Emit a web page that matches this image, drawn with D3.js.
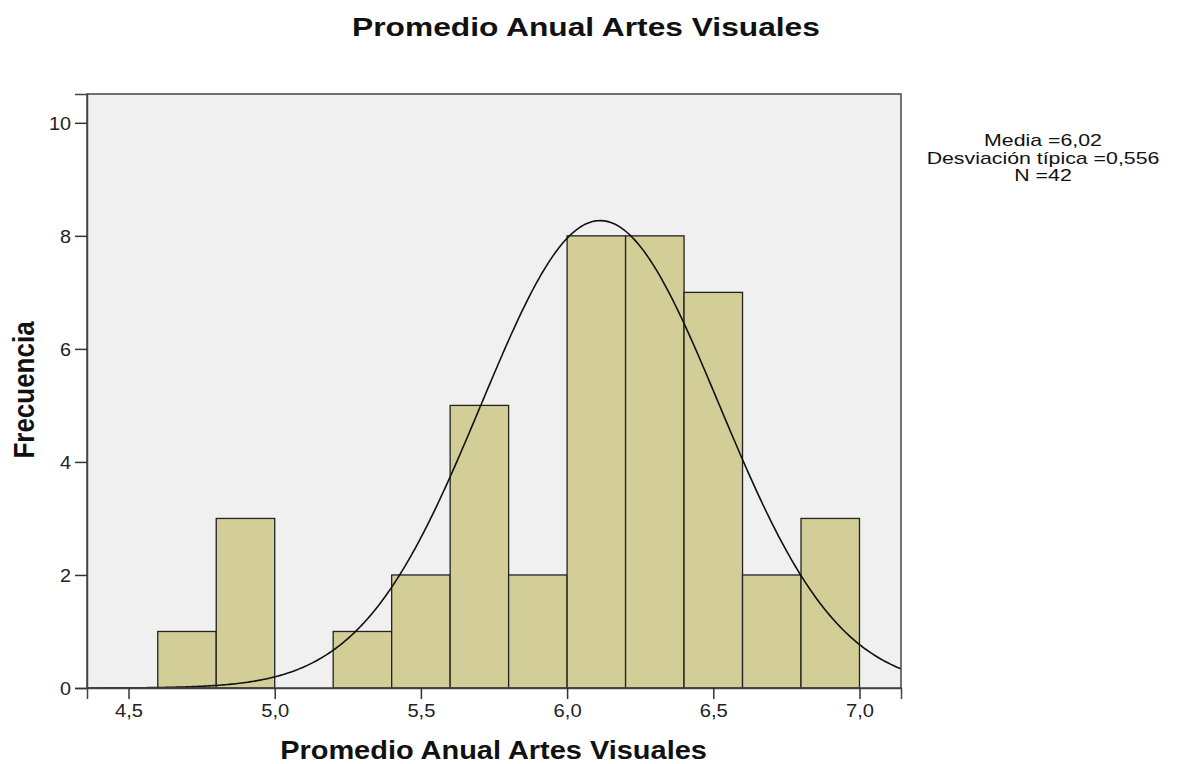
<!DOCTYPE html>
<html><head><meta charset="utf-8">
<script src="https://cdn.jsdelivr.net/npm/d3@7/dist/d3.min.js"></script>
<style>body{margin:0;background:#fff;} text{font-family:"Liberation Sans",Arial,sans-serif;}</style>
</head><body><svg id="c" width="1178" height="764"></svg>
<script>
const binStarts = [4.6, 4.8, 5.0, 5.2, 5.4, 5.6, 5.8, 6.0, 6.2, 6.4, 6.6, 6.8];
const binWidth = 0.2;
const counts = [1, 3, 0, 1, 2, 5, 2, 8, 8, 7, 2, 3];
const xTicks = [4.5, 5.0, 5.5, 6.0, 6.5, 7.0];
const yTicks = [0, 2, 4, 6, 8, 10];
const curveMean = 6.113, curveSd = 0.407, curvePeak = 8.27;
const statsLines = ["Media =6,02", "Desviación típica =0,556", "N =42"];

const svg = d3.select("#c");
const L = 87, R = 901, T = 94, B = 688;
const x = d3.scaleLinear().domain([4.358, 7.142]).range([L, R]);
const y = d3.scaleLinear().domain([0, 10.51]).range([B, T]);

svg.append("rect").attr("x", L).attr("y", T).attr("width", R - L).attr("height", B - T)
  .attr("fill", "#f0f0f0");

const bars = binStarts.map((s, i) => ({s, c: counts[i]})).filter(d => d.c > 0);
svg.selectAll(".bar").data(bars).enter().append("rect")
  .attr("x", d => x(d.s)).attr("y", d => y(d.c))
  .attr("width", d => x(d.s + binWidth) - x(d.s)).attr("height", d => y(0) - y(d.c))
  .attr("fill", "#d3ce98").attr("stroke", "#222").attr("stroke-width", 1.3);

const pts = d3.range(0, 401).map(i => {
  const v = 4.358 + (7.142 - 4.358) * i / 400;
  return [v, curvePeak * Math.exp(-((v - curveMean) ** 2) / (2 * curveSd * curveSd))];
});
svg.append("path").attr("d", d3.line().x(d => x(d[0])).y(d => y(d[1]))(pts))
  .attr("fill", "none").attr("stroke", "#111").attr("stroke-width", 1.6);

svg.append("rect").attr("x", L).attr("y", T).attr("width", R - L).attr("height", B - T)
  .attr("fill", "none").attr("stroke", "#444").attr("stroke-width", 1.5);

const fmt = d => d.toFixed(1).replace(".", ",");
const xa = svg.append("g").attr("transform", `translate(0,${B})`)
  .call(d3.axisBottom(x).tickValues(xTicks).tickFormat(fmt).tickSize(11).tickPadding(0));
const ya = svg.append("g").attr("transform", `translate(${L},0)`)
  .call(d3.axisLeft(y).tickValues(yTicks).tickFormat(d3.format("d")).tickSize(12).tickPadding(0));
[xa, ya].forEach(a => {
  a.select(".domain").attr("stroke", "#444").attr("stroke-width", 1.5);
  a.selectAll(".tick line").attr("stroke", "#333").attr("stroke-width", 1.5);
  a.selectAll("text").attr("font-size", 18).attr("fill", "#222")
    .attr("font-family", "'Liberation Sans',Arial,sans-serif");
});
xa.selectAll(".tick text").attr("x", null).attr("y", null).attr("dy", null)
  .attr("transform", "translate(0,29) scale(1.12,1)");
ya.selectAll(".tick text").attr("x", null).attr("dy", null)
  .attr("transform", "translate(-16,6.5) scale(1.1,1)");

function fitText(sel, cx, cy, fs, target, rotate) {
  const t = svg.append("text").attr("text-anchor", "middle").attr("font-size", fs)
    .attr("font-weight", "bold").attr("fill", "#111").text(sel);
  const w = t.node().getComputedTextLength();
  if (rotate) {
    t.attr("transform", `translate(${cx},${cy}) scale(1.15,1) rotate(-90)`);
  } else {
    t.attr("transform", `translate(${cx},${cy}) scale(${target / w},1)`);
  }
  return t;
}
fitText("Promedio Anual Artes Visuales", 586, 36, 26, 468, false);
fitText("Promedio Anual Artes Visuales", 493.5, 759, 26, 427, false);
fitText("Frecuencia", 34, 390, 26, 0, true);

const leg = svg.append("g");
const legTexts = leg.selectAll("text").data(statsLines).enter().append("text")
  .attr("text-anchor", "middle").attr("font-size", 17).attr("fill", "#111").text(d => d);
const wRef = legTexts.nodes()[1].getComputedTextLength();
const sx = 233 / wRef;
legTexts.attr("transform", (d, i) => `translate(1043,${146 + i * 17.5}) scale(${sx},1)`);
</script></body></html>
